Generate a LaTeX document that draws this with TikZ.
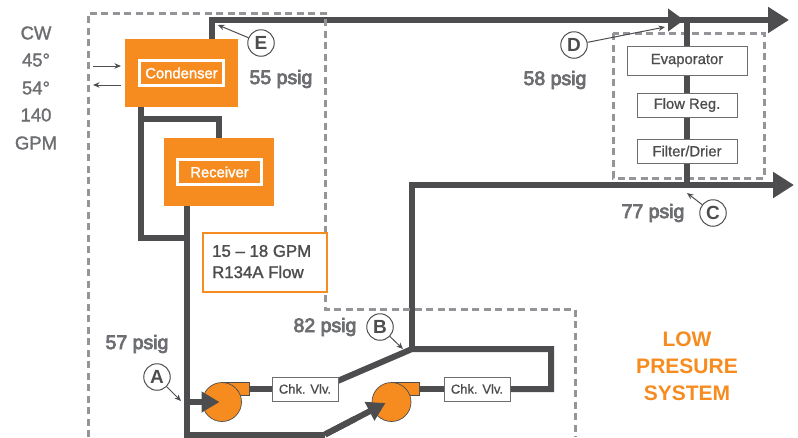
\documentclass[tikz,border=0pt]{standalone}
\usepackage{fontspec}
\setmainfont{Liberation Sans}
\newfontfamily\medf[FakeBold=1.5]{Liberation Sans}
\newfontfamily\lightf[FakeBold=0.8]{Liberation Sans}
\newfontfamily\semif[FakeBold=4]{Liberation Sans}
\usetikzlibrary{arrows.meta,calc}
\definecolor{pipec}{HTML}{4D4D4F}
\definecolor{txtc}{HTML}{6D6E71}
\definecolor{dashc}{HTML}{939598}
\definecolor{orangec}{HTML}{F68B1F}
\tikzset{
 pipe/.style={draw=pipec,line width=6pt,line join=miter},
 bigarrow/.style={pipe,-{Triangle[length=21pt,width=25pt]}},
 midarrow/.style={pipe,-{Triangle[length=16pt,width=22pt]}},
 pumparrow/.style={pipe,-{Triangle[length=18pt,width=20pt]}},
 thin arrow/.style={draw=pipec,line width=1pt,-{Stealth[length=6.5pt,width=5.5pt]}},
 zone/.style={draw=dashc,line width=3pt,dash pattern=on 7pt off 4.5pt},
 vessel/.style={fill=orangec,draw=none,inner sep=0pt,minimum width=#1},
 tag/.style={draw=white,line width=2.2pt,text=white,fill=none,font=\medf\fontsize{14.8}{16}\selectfont,inner sep=0pt},
 part/.style={draw=txtc,fill=white,line width=1pt,text=pipec,font=\lightf\fontsize{14.8}{16}\selectfont,inner sep=0pt},
 chk/.style={part,minimum width=66pt,minimum height=24pt,font=\lightf\fontsize{13}{15}\selectfont},
 psig/.style={text=txtc,font=\semif\fontsize{19.5}{22}\selectfont,inner sep=0pt},
 cw/.style={text=txtc,font=\medf\fontsize{18.5}{20}\selectfont,inner sep=0pt},
 mark circle/.style={circle,draw=pipec,fill=white,line width=1pt,minimum size=26.5pt,inner sep=0pt,text=pipec,font=\fontsize{19}{20}\selectfont\bfseries},
 pump/.style={circle,fill=orangec,draw=pipec,line width=0.7pt,minimum size=39pt,inner sep=0pt},
 spout/.style={fill=orangec,draw=pipec,line width=0.7pt},
}
\begin{document}
\begin{tikzpicture}[x=1pt,y=-1pt]
\useasboundingbox (0,0) rectangle (798,437);
% right zone under pipes
\draw[zone] (613,33) rectangle (764,178);
% named positions
\coordinate (topstart) at (212,39);
\coordinate (topcorner) at (212,20);
\coordinate (topend) at (789,20);
\coordinate (dtip) at (684,20);
\coordinate (evaptop) at (687,20);
\coordinate (evapbot) at (687,185);
\coordinate (botstart) at (412,185);
\coordinate (botend) at (794,185);
\coordinate (junction) at (412,349);
\coordinate (rcorner) at (551,349);
\coordinate (rlow) at (551,389);
\coordinate (kink) at (319,389);
\coordinate (suct) at (187,434.5);
\coordinate (suctb) at (325,434.5);
\coordinate (tipa) at (219.5,402);
\coordinate (tapa) at (187,402);
\coordinate (tipb) at (385.5,403);
\coordinate (ct) at (141,119);
\coordinate (ctr) at (219,119);
\coordinate (cb) at (141,238);
\coordinate (cbr) at (187,238);
% vessels
\node[vessel=113pt,minimum height=68pt] (cond) at (181.5,73) {};
\node[vessel=110pt,minimum height=68pt] (recv) at (219,172) {};
% pipes
\draw[pipe] (topstart) -- (topcorner) -- (dtip);
\draw[midarrow] (topcorner) -- (dtip);
\draw[bigarrow] (dtip) -- (topend);
\draw[pipe] (evaptop) -- (evapbot);
\draw[bigarrow] (botstart) -- (botend);
\draw[pipe] (412,182) -- (junction);
\draw[pipe] (cond.south -| cb) -- (cb) -- (cbr);
\draw[pipe] (ct) -- (ctr) -- (recv.north -| ctr);
\draw[pipe] (recv.south -| cbr) -- (suct) -- (suctb);
\draw[pipe] (suctb) -- ($(suctb)!0.5!(tipb)$);
% zones
\draw[zone] (88,437) -- (88,13) -- (325,13) -- (325,309) -- (575,309) -- (575,437);
% pumps
\draw[spout] (222,382) rectangle (249,395);
\draw[spout] (391,382) rectangle (419,395);
\node[pump] (p1) at (222,402) {};
\node[pump] (p2) at (391.5,402) {};
\node[chk] (v2) at (477,389) {Chk. Vlv.};
\draw[pipe] (kink) -- (junction) -- (rcorner) -- (rlow) -- (v2.east);
\node[chk] (v1) at (305,389) {Chk. Vlv.};
\draw[pipe] (249,389) -- (v1.west);
\draw[pipe] (419,389) -- (v2.west);
\draw[pumparrow] (tapa) -- (tipa);
\draw[pumparrow] (suctb) -- (tipb);
% vessel labels
\node[tag,minimum width=84pt,minimum height=25pt] (condtag) at (181.5,73) {Condenser};
\node[tag,minimum width=84pt,minimum height=25pt] (recvtag) at (219.5,172) {Receiver};
% parts
\node[part,minimum width=120pt,minimum height=29pt] (evap) at (687,60.5) {Evaporator};
\node[part,minimum width=100pt,minimum height=24pt] (flow) at (687,105) {Flow Reg.};
\node[part,minimum width=100pt,minimum height=24pt] (filt) at (687,151) {Filter/Drier};
% flow box
\node[draw=orangec,fill=white,line width=1.5pt,minimum width=124pt,minimum height=59pt,inner sep=0pt] (flowbox) at (265,262.5) {};
\node[anchor=west,text=pipec,font=\medf\fontsize{16.8}{18}\selectfont,inner sep=0pt] (l1) at (212,251) {15 – 18 GPM};
\node[anchor=west,text=pipec,font=\medf\fontsize{16.8}{18}\selectfont,inner sep=0pt] (l2) at (212,272) {R134A Flow};
% CW
\node[cw] (t1) at (36,33) {CW};
\node[cw] (t2) at (36,60) {45°};
\node[cw] (t3) at (36,88) {54°};
\node[cw] (t4) at (36,115) {140};
\node[cw] (t5) at (36,143) {GPM};
\coordinate (cwa) at (93,66);
\coordinate (cwb) at (121,66);
\coordinate (cwc) at (121,85);
\coordinate (cwd) at (93,85);
\draw[thin arrow] (cwa) -- (cwb);
\draw[thin arrow] (cwc) -- (cwd);
% psig
\node[psig] (pe) at (281,79) {55 psig};
\node[psig] (pd) at (555,80) {58 psig};
\node[psig] (pc) at (653,213) {77 psig};
\node[psig] (pb) at (325,327) {82 psig};
\node[psig] (pa) at (137,344) {57 psig};
% marks
\node[mark circle] (E) at (261,43) {E};
\node[mark circle] (D) at (574,45) {D};
\node[mark circle] (C) at (713,213) {C};
\node[mark circle] (B) at (380,327) {B};
\node[mark circle] (A) at (157,377) {A};
\coordinate (ae) at (218,25);
\coordinate (ad) at (665,27);
\coordinate (ac) at (687,193);
\coordinate (ab) at (403,349);
\coordinate (aa) at (181,401);
\draw[thin arrow] (E) -- (ae);
\draw[thin arrow] (D) -- (ad);
\draw[thin arrow] (C) -- (ac);
\draw[thin arrow] (B) -- (ab);
\draw[thin arrow] (A) -- (aa);
% low pressure
\node[text=orangec,font=\fontsize{21}{27}\selectfont\bfseries,align=center,inner sep=0pt] (low) at (687,366) {LOW\\PRESURE\\SYSTEM};
\end{tikzpicture}
\end{document}
